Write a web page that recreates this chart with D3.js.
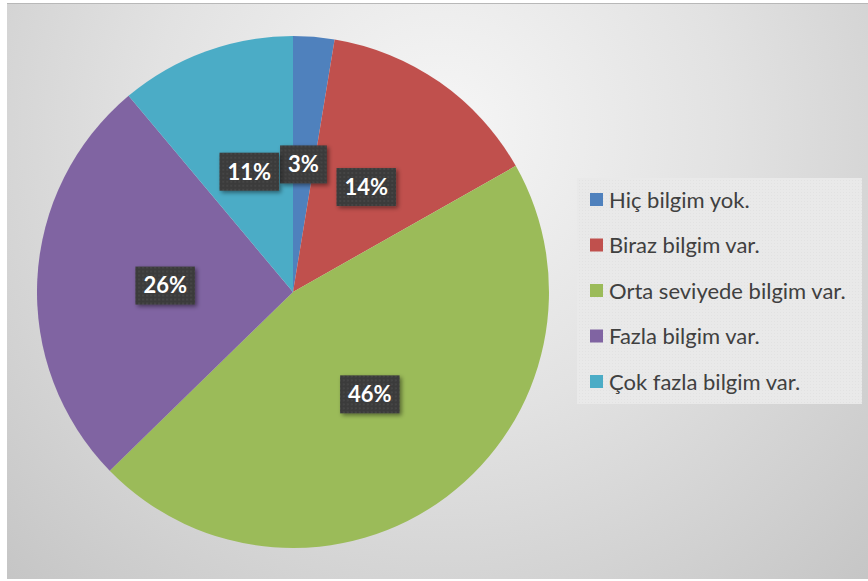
<!DOCTYPE html>
<html>
<head>
<meta charset="utf-8">
<script src="https://cdn.jsdelivr.net/npm/d3@7"></script>
<style>
  body { margin: 0; background: #fff; }
  svg { display: block; }
</style>
</head>
<body>
<script>
// chart data
var categories = ["Hiç bilgim yok.", "Biraz bilgim var.", "Orta seviyede bilgim var.", "Fazla bilgim var.", "Çok fazla bilgim var."];
var values = [2.6, 14.2, 45.9, 26.2, 11.1];
var labels = ["3%", "14%", "46%", "26%", "11%"];
var colors = ["#4F81BD", "#C0504D", "#9BBB59", "#8064A2", "#4BACC6"];

var width = 868, height = 581;

var svg = d3.select("body").append("svg")
    .attr("width", width)
    .attr("height", height);

var defs = svg.append("defs");

// background gradient
var bg = defs.append("radialGradient")
    .attr("id", "bg")
    .attr("gradientUnits", "userSpaceOnUse")
    .attr("cx", 440).attr("cy", 130).attr("r", 640);
bg.append("stop").attr("offset", "0").attr("stop-color", "#f6f6f6");
bg.append("stop").attr("offset", "0.45").attr("stop-color", "#e2e2e2");
bg.append("stop").attr("offset", "1").attr("stop-color", "#c4c4c4");

// label shadow
var sh = defs.append("filter").attr("id", "shadow")
    .attr("x", "-30%").attr("y", "-30%").attr("width", "160%").attr("height", "160%");
sh.append("feDropShadow").attr("dx", 2).attr("dy", 2).attr("stdDeviation", 2)
    .attr("flood-color", "#000").attr("flood-opacity", 0.45);

// dotted texture of the label boxes
var pat = defs.append("pattern").attr("id", "dots")
    .attr("patternUnits", "userSpaceOnUse").attr("width", 4).attr("height", 4);
pat.append("rect").attr("width", 4).attr("height", 4).attr("fill", "#3b3b3b");
pat.append("circle").attr("cx", 2).attr("cy", 2).attr("r", 0.9).attr("fill", "#4a4a4a");

// legend texture
var lpat = defs.append("pattern").attr("id", "ldots")
    .attr("patternUnits", "userSpaceOnUse").attr("width", 3).attr("height", 3);
lpat.append("rect").attr("width", 3).attr("height", 3).attr("fill", "#e9e9e9");
lpat.append("rect").attr("width", 1).attr("height", 1).attr("fill", "#e2e2e2");

svg.append("rect")
    .attr("x", 7).attr("y", 3)
    .attr("width", width - 7).attr("height", height - 5)
    .attr("fill", "url(#bg)");
svg.append("line")
    .attr("x1", 7).attr("x2", width).attr("y1", 3.5).attr("y2", 3.5)
    .attr("stroke", "#b8b8b8");

// pie
var cx = 293, cy = 292, radius = 256;

var pie = d3.pie().sort(null).value(d => d);
var arcs = pie(values);

var arc = d3.arc().innerRadius(0).outerRadius(radius);

var pieGroup = svg.append("g")
    .attr("transform", `translate(${cx}, ${cy})`);

pieGroup.selectAll("path")
    .data(arcs)
    .enter().append("path")
    .attr("d", arc)
    .attr("fill", (d, i) => colors[i]);

// data labels
var labelGroup = pieGroup.selectAll("g.lbl")
    .data(arcs)
    .enter().append("g")
    .attr("class", "lbl")
    .attr("transform", d => `translate(${arc.centroid(d)})`);

labelGroup.append("text")
    .attr("text-anchor", "middle")
    .attr("dy", "0.36em")
    .attr("font-family", "Lato, 'Open Sans', sans-serif")
    .attr("font-weight", "bold")
    .attr("font-size", 22)
    .attr("fill", "#fff")
    .text((d, i) => labels[i]);

labelGroup.each(function() {
    var g = d3.select(this);
    var bb = g.select("text").node().getBBox();
    g.insert("rect", "text")
        .attr("x", bb.x - 8).attr("y", -19)
        .attr("width", bb.width + 16).attr("height", 38)
        .attr("fill", "url(#dots)")
        .attr("filter", "url(#shadow)");
});

// legend
var legend = svg.append("g");
legend.append("rect")
    .attr("x", 577).attr("y", 178)
    .attr("width", 285).attr("height", 226)
    .attr("fill", "url(#ldots)");

var rows = legend.selectAll("g.item")
    .data(categories)
    .enter().append("g")
    .attr("class", "item")
    .attr("transform", (d, i) => `translate(590, ${200 + i * 45.5})`);

rows.append("rect")
    .attr("x", 0).attr("y", -7)
    .attr("width", 13).attr("height", 13)
    .attr("fill", (d, i) => colors[i]);

rows.append("text")
    .attr("x", 19)
    .attr("dy", "0.35em")
    .attr("font-family", "Lato, 'Open Sans', sans-serif")
    .attr("font-size", 22)
    .attr("fill", "#404040")
    .text(d => d);
</script>
</body>
</html>
